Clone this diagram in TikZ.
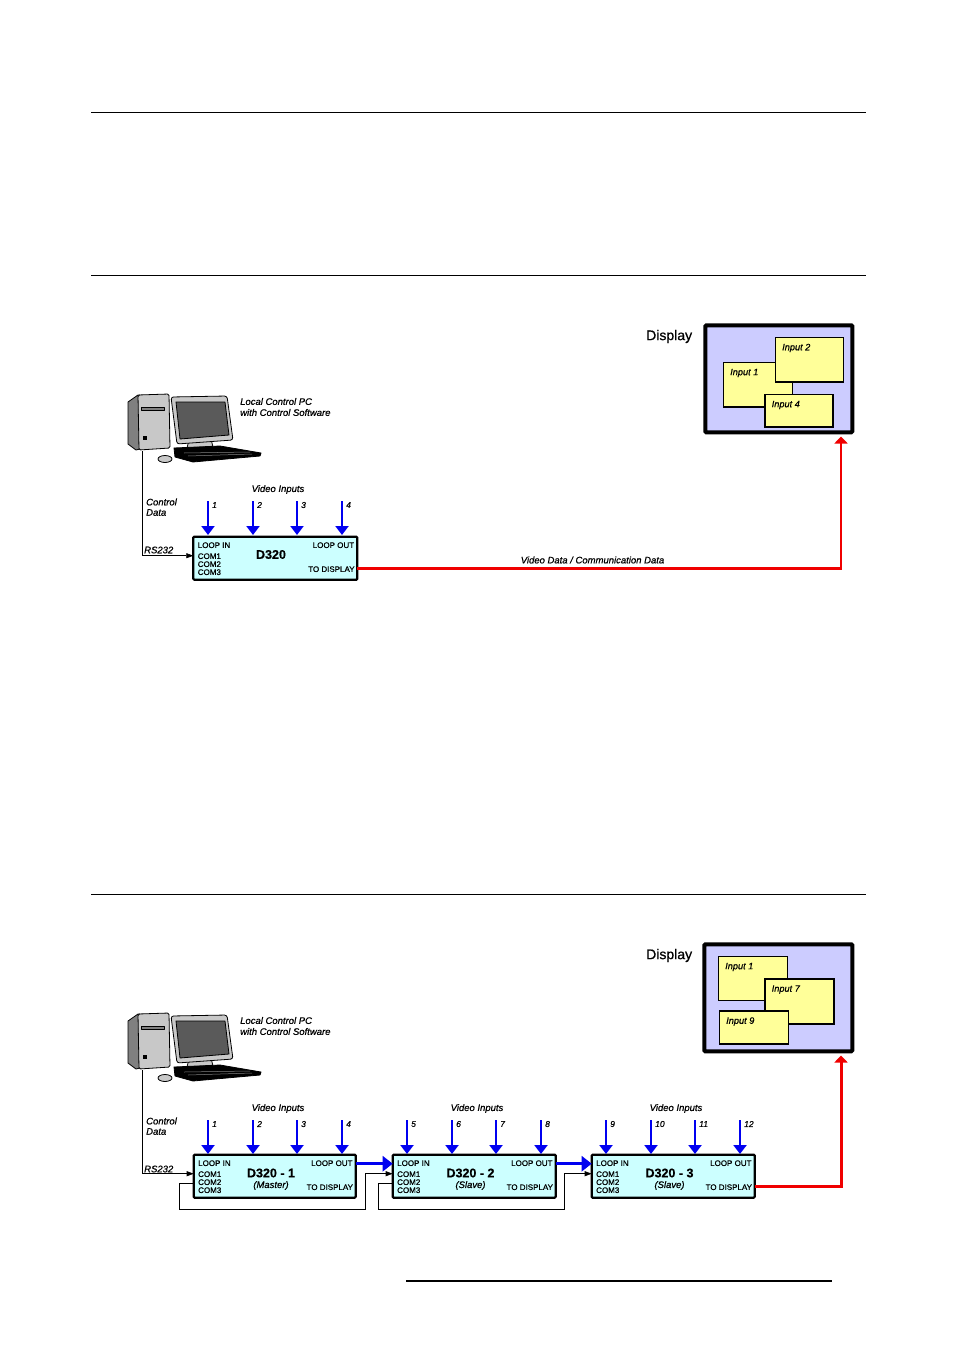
\documentclass[tikz,border=0pt]{standalone}
\usepackage{fontspec}
\setmainfont{Liberation Sans}[FakeBold=0.6]
\usetikzlibrary{arrows.meta}
\definecolor{boxcyan}{HTML}{CCFFFF}
\definecolor{dispblue}{HTML}{CCCCFF}
\definecolor{winyellow}{HTML}{FFFF99}
\definecolor{vblue}{HTML}{0000F0}
\definecolor{vred}{HTML}{F00000}
\definecolor{pcgrey}{HTML}{C8C8C8}
\definecolor{pcdark}{HTML}{808080}
\tikzset{
 x=1pt,y=-1pt,
 rule/.style={line width=0.7pt,black},
 unitbox/.style={draw=black,line width=2.2pt,fill=boxcyan,rounded corners=1pt,outer sep=0pt},
 dispbox/.style={draw=black,line width=4pt,fill=dispblue,rounded corners=1pt,outer sep=0pt},
 winbox/.style={draw=black,line width=1.1pt,fill=winyellow,outer sep=0pt},
 lab/.style={font=\fontsize{9.5}{10}\selectfont\itshape,inner sep=0pt,text=black},
 inlab/.style={font=\fontsize{9.2}{10}\selectfont\itshape,inner sep=0pt,text=black},
 numlab/.style={font=\fontsize{8.5}{10}\selectfont\itshape,inner sep=0pt,text=black},
 port/.style={font=\fontsize{8}{8}\selectfont,inner sep=0pt,text=black},
 unitname/.style={font=\fontsize{12.5}{14}\selectfont\bfseries,inner sep=0pt},
 disptitle/.style={font=\fontsize{14}{16}\selectfont,inner sep=0pt},
 videoarrow/.style={draw=vblue,line width=2.8pt,-{Triangle[length=9pt,width=13pt]}},
 loopline/.style={draw=vblue,line width=3pt,-{Triangle[length=10pt,width=15pt]}},
 redline/.style={draw=vred,line width=2.6pt,-{Triangle[length=7pt,width=13pt]}},
 redthick/.style={draw=vred,line width=3pt,-{Triangle[length=7pt,width=13pt]}},
 ctrl/.style={draw=black,line width=0.6pt,-{Triangle[length=7pt,width=5pt]}},
 pcpart/.style={draw=black,line width=0.8pt,line join=round},
}
% #1 = name of the cable coordinate, #2 = x, #3 = y of the PC image's top left
\newcommand{\pcimage}[3]{%
 \begin{scope}[shift={(#2,#3)}]
  % tower
  \fill[pcdark,pcpart] (0,8)--(10,1)--(12,1)--(12,55)--(8,56)--(0,50)--cycle;
  \fill[pcgrey,pcpart,rounded corners=1.5pt] (10,1)--(41,0)--(42,54)--(11,56)--cycle;
  \fill[pcdark,pcpart] (13,13)--(36,13)--(36,16)--(13,16)--cycle;
  \fill[black] (15,42) rectangle (19,46);
  % monitor stand
  \fill[pcgrey,pcpart] (61,46)--(83,45)--(85,53)--(59,54)--cycle;
  % monitor
  \fill[pcgrey,pcpart,rounded corners=2.5pt] (43,3)--(99,2)--(105,46)--(49,50)--cycle;
  \fill[pcdark!70!black,pcpart] (48,8)--(97,8)--(101,41)--(52,45)--cycle;
  % keyboard
  \fill[black,pcpart] (46,54)--(92,52)--(133,59)--(132,62)--(65,68)--(47,63)--cycle;
  \draw[pcdark,line width=0.5pt] (56,59)--(122,58) (60,62)--(124,60);
  % mouse
  \fill[pcgrey,pcpart] (37,65) ellipse (7 and 3.5);
  \coordinate (#1) at (14,57);
 \end{scope}}
% #1 name, #2 left, #3 top, #4 width, #5 height, #6 text
\newcommand{\winrect}[6]{\node[winbox,anchor=north west,minimum width=#4,minimum height=#5,inner sep=0pt] (#1) at (#2,#3) {};
 \node[inlab,anchor=west] (#1t) at (#2+6.5,#3+10.5) {#6};}
% #1 name, #2 left, #3 top, #4 width
\newcommand{\unit}[4]{%
 \node[unitbox,anchor=north west,minimum width=#4 pt,minimum height=43,inner sep=0pt] (#1) at (#2,#3) {};
 \node[port,anchor=west] (#1li) at (#2+4.3,#3+8.5) {LOOP IN};
 \node[port,anchor=east] (#1lo) at (#2+#4-3,#3+8.5) {LOOP OUT};
 \node[port,anchor=east] (#1td) at (#2+#4-2.5,#3+32.5) {TO DISPLAY};
 \node[port,anchor=west] (#1comA) at (#2+4.3,#3+19.5) {COM1};
 \node[port,anchor=west] (#1comB) at (#2+4.3,#3+27.5) {COM2};
 \node[port,anchor=west] (#1comC) at (#2+4.3,#3+35.5) {COM3};
 \coordinate (#1in) at (#2,#3+19);
 \coordinate (#1cm) at (#2,#3+28.5);
 \coordinate (#1out) at (#2+#4,#3+31.5);
 \coordinate (#1lpi) at (#2,#3+9);
 \coordinate (#1lpo) at (#2+#4,#3+9);
}
% video arrow: #1 name, #2 x, #3 y start, #4 label
\newcommand{\varrow}[4]{%
 \coordinate (#1s) at (#2,#3);
 \coordinate (#1e) at (#2,#3+34);
 \draw[videoarrow] (#1s) -- (#1e);
 \node[numlab,anchor=west] (#1l) at (#2+4,#3+4) {#4};}
\begin{document}
\begin{tikzpicture}
\useasboundingbox (0,0) rectangle (954,1351);
\fill[white] (0,0) rectangle (954,1351);
% page rules
\coordinate (r1a) at (91,112.5); \coordinate (r1b) at (866,112.5);
\coordinate (r2a) at (91,275.5); \coordinate (r2b) at (866,275.5);
\coordinate (r3a) at (91,894.5); \coordinate (r3b) at (866,894.5);
\coordinate (r4a) at (406,1280.5); \coordinate (r4b) at (832,1280.5);
\draw[rule] (r1a)--(r1b) (r2a)--(r2b) (r3a)--(r3b);
\draw[line width=2pt] (r4a)--(r4b);

% ---- first diagram ----
\node[disptitle,anchor=west] (dt1) at (646,336.5) {Display};
\node[dispbox,anchor=north west,minimum width=147,minimum height=107,inner sep=0pt] (disp1) at (705.3,325.3) {};
\winrect{a1}{723.5}{362.5}{69}{44.5}{Input 1}
\winrect{a2}{775.5}{337.5}{68}{44.5}{Input 2}
\winrect{a4}{765}{394.5}{68}{32.5}{Input 4}
\pcimage{cableA}{128}{394}
\node[lab,anchor=west] (pt1) at (240,401.5) {Local Control PC};
\node[lab,anchor=west] (pt1b) at (240,412.5) {with Control Software};
\node[lab,anchor=west] (cd1) at (146,502) {Control};
\node[lab,anchor=west] (cd1b) at (146,512.5) {Data};
\node[lab,anchor=west] (rs1) at (144,550) {RS232};
\node[lab,anchor=center] (vi1) at (278,489.5) {Video Inputs};
\unit{uA}{193.3}{536.7}{164}
\node[unitname] (un) at (271,554.5) {D320};
\draw[ctrl] (cableA) |- (uAin);
\varrow{v1}{208}{501}{1}
\varrow{v2}{253}{501}{2}
\varrow{v3}{297}{501}{3}
\varrow{v4}{342}{501}{4}
\coordinate (ra) at (841,568.2);
\coordinate (rat) at (841,436.5);
\draw[redline] (uAout) -- (ra) -- (rat);
\node[lab,anchor=center] (vd) at (592.5,560) {Video Data / Communication Data};

% ---- second diagram ----
\node[disptitle,anchor=west] (dt2) at (646,955.5) {Display};
\node[dispbox,anchor=north west,minimum width=148,minimum height=107,inner sep=0pt] (disp2) at (704.3,944.3) {};
\winrect{b1}{718.5}{956.5}{69}{44}{Input 1}
\winrect{b7}{765}{979}{69}{45}{Input 7}
\winrect{b9}{719.5}{1011}{69}{33}{Input 9}
\pcimage{cableB}{128}{1013}
\node[lab,anchor=west] (pt2) at (240,1020.5) {Local Control PC};
\node[lab,anchor=west] (pt2b) at (240,1031.5) {with Control Software};
\node[lab,anchor=west] (cd2) at (146,1121) {Control};
\node[lab,anchor=west] (cd2b) at (146,1131.5) {Data};
\node[lab,anchor=west] (rs2) at (144,1169) {RS232};
\node[lab,anchor=center] (vi2) at (278,1108.5) {Video Inputs};
\node[lab,anchor=center] (vi3) at (477,1108.5) {Video Inputs};
\node[lab,anchor=center] (vi4) at (676,1108.5) {Video Inputs};
\unit{uP}{193.7}{1154.7}{162}
\unit{uQ}{392.7}{1154.7}{163}
\unit{uS}{591.7}{1154.7}{163}
\node[unitname] (pn) at (271,1173) {D320 - 1};
\node[unitname] (qn) at (470.5,1173) {D320 - 2};
\node[unitname] (sn) at (669.5,1173) {D320 - 3};
\node[lab] (pm) at (271,1185.5) {(Master)};
\node[lab] (qm) at (470.5,1185.5) {(Slave)};
\node[lab] (sm) at (669.5,1185.5) {(Slave)};
\draw[ctrl] (cableB) |- (uPin);
\draw[loopline] (uPlpo) -- (uQlpi);
\draw[loopline] (uQlpo) -- (uSlpi);
\coordinate (l1a) at (179.5,1183.2); \coordinate (l1b) at (179.5,1209.5); \coordinate (l1c) at (365.5,1209.5); \coordinate (l1d) at (365.5,1173.7);
\coordinate (l2a) at (378.5,1183.2); \coordinate (l2b) at (378.5,1209.5); \coordinate (l2c) at (564.5,1209.5); \coordinate (l2d) at (564.5,1173.7);
\draw[ctrl] (uPcm) -- (l1a) -- (l1b) -- (l1c) -- (l1d) -- (uQin);
\draw[ctrl] (uQcm) -- (l2a) -- (l2b) -- (l2c) -- (l2d) -- (uSin);
\varrow{w1}{208}{1120}{1}
\varrow{w2}{253}{1120}{2}
\varrow{w3}{297}{1120}{3}
\varrow{w4}{342}{1120}{4}
\varrow{w5}{407}{1120}{5}
\varrow{w6}{452}{1120}{6}
\varrow{w7}{496}{1120}{7}
\varrow{w8}{541}{1120}{8}
\varrow{w9}{606}{1120}{9}
\varrow{w10}{651}{1120}{10}
\varrow{w11}{695}{1120}{11}
\varrow{w12}{740}{1120}{12}
\coordinate (rb) at (841,1186.2);
\coordinate (rbt) at (841,1055.5);
\draw[redthick] (uSout) -- (rb) -- (rbt);
\end{tikzpicture}
\end{document}
